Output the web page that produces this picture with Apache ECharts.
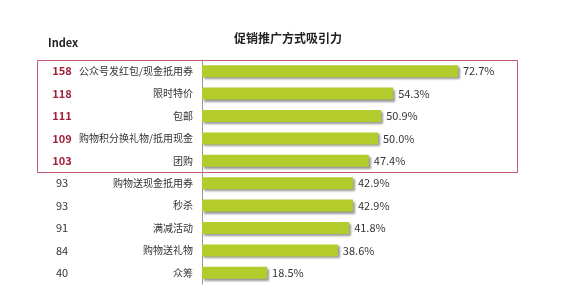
<!DOCTYPE html>
<html><head><meta charset="utf-8">
<script src="https://cdn.jsdelivr.net/npm/echarts@6/dist/echarts.min.js"></script>
<style>html,body{margin:0;padding:0;background:#fff}#c{width:568px;height:308px}</style>
</head><body><div id="c"></div>
<script>
const categories = ['公众号发红包/现金抵用券','限时特价','包邮','购物积分换礼物/抵用现金','团购','购物送现金抵用券','秒杀','满减活动','购物送礼物','众筹'];
const values = [72.7, 54.3, 50.9, 50.0, 47.4, 42.9, 42.9, 41.8, 38.6, 18.5];
const indexValues = [158, 118, 111, 109, 103, 93, 93, 91, 84, 40];
const highlightCount = 5;

const chart = echarts.init(document.getElementById('c'));
const font = '"Noto Sans CJK SC", "Noto Sans", sans-serif';
const option = {
  animation: false,
  title: {
    text: '促销推广方式吸引力', left: 283, top: 27, textAlign: 'center',
    textStyle: {fontSize: 12, fontWeight: 'bold', color: '#222', fontFamily: font}
  },
  grid: {left: 202, right: 14, top: 60, bottom: 24, containLabel: false},
  xAxis: {type: 'value', min: 0, max: 100, show: false},
  yAxis: [{
    type: 'category', data: categories, inverse: true,
    axisLine: {show: true, lineStyle: {color: '#999', width: 1}},
    axisTick: {show: false},
    axisLabel: {fontSize: 10, color: '#333', margin: 9, fontFamily: font}
  }, {
    type: 'category', data: indexValues.map(String), inverse: true, position: 'left', offset: 140,
    axisLine: {show: false}, axisTick: {show: false},
    axisLabel: {
      fontSize: 11, margin: 0, align: 'center', fontFamily: font,
      color: (v, i) => i < highlightCount ? '#a3203a' : '#333',
      formatter: (v, i) => i < highlightCount ? '{h|' + v + '}' : v,
      rich: {h: {fontWeight: 'bold', color: '#a3203a', fontSize: 11, fontFamily: font}}
    }
  }],
  series: [{
    type: 'bar', data: values, barWidth: 12, yAxisIndex: 0,
    itemStyle: {color: '#b3cc2c', shadowColor: 'rgba(0,0,0,0.4)', shadowBlur: 2, shadowOffsetX: 2, shadowOffsetY: 2},
    label: {show: true, position: 'right', distance: 5, fontSize: 11, color: '#333', fontFamily: font,
      formatter: p => p.value.toFixed(1) + '%'}
  }]
};
chart.setOption(option);
// red highlight box around top rows
const yTop = chart.convertToPixel({yAxisIndex: 0}, categories[0]);
const yNext = chart.convertToPixel({yAxisIndex: 0}, categories[1]);
const band = yNext - yTop;
chart.setOption({graphic: [{
  type: 'text', left: 48, top: 37,
  style: {text: 'Index', font: 'bold 11px ' + font, fill: '#222'}
}, {
  type: 'rect', shape: {x: 37.5, y: Math.round(yTop - band / 2) + 0.5, width: 480, height: Math.round(band * highlightCount)},
  style: {fill: 'none', stroke: '#c25a6e', lineWidth: 1}
}]});
</script></body></html>
